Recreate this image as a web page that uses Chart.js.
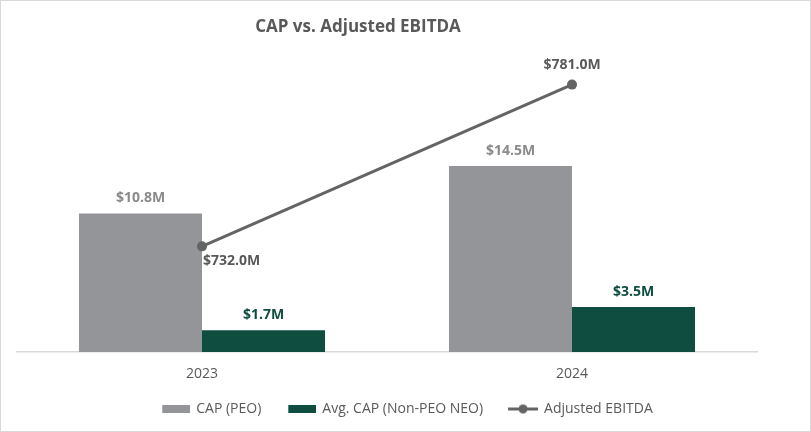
<!DOCTYPE html>
<html>
<head>
<meta charset="utf-8">
<script src="https://cdn.jsdelivr.net/npm/chart.js@4.4.0/dist/chart.umd.min.js"></script>
<style>
  html, body { margin: 0; padding: 0; background: #fff; }
  #wrap { width: 811px; height: 432px; box-sizing: border-box; border: 1px solid #d9d9d9; }
  canvas { display: block; }
</style>
</head>
<body>
<div id="wrap"><canvas id="cap-chart" width="809" height="430"></canvas></div>
<script>
var years = ["2023", "2024"]
var capPeo = [10.8, 14.5]
var capNonPeo = [1.7, 3.5]
var ebitda = [732.0, 781.0]
var seriesNames = ["CAP (PEO)", "Avg. CAP (Non-PEO NEO)", "Adjusted EBITDA"]

var GRAY = '#939598'
var GREEN = '#0e4d40'
var LINE = '#646464'
var TEXT = '#595959'
var labelColors = ['#8a8a8c', GREEN, TEXT]

Chart.defaults.font.family = '"Open Sans", sans-serif'

// legend icons: transparent strip on the left gives the wide gap between items
function boxIcon(color) {
  var c = document.createElement('canvas')
  c.width = 46; c.height = 8
  var g = c.getContext('2d')
  g.fillStyle = color
  g.fillRect(18, 0, 28, 8)
  return c
}
function lineIcon(color) {
  var c = document.createElement('canvas')
  c.width = 46; c.height = 11
  var g = c.getContext('2d')
  g.strokeStyle = color
  g.lineWidth = 3
  g.beginPath(); g.moveTo(16, 5.5); g.lineTo(46, 5.5); g.stroke()
  g.fillStyle = color
  g.beginPath(); g.arc(31, 5.5, 4.5, 0, Math.PI * 2); g.fill()
  return c
}
var legendIcons = [boxIcon(GRAY), boxIcon(GREEN), lineIcon(LINE)]

const titlePlugin = {
  id: 'leftTitle',
  afterDraw(chart) {
    const ctx = chart.ctx
    ctx.save()
    ctx.font = 'bold 17px "Open Sans"'
    ctx.fillStyle = TEXT
    ctx.textAlign = 'center'
    ctx.textBaseline = 'middle'
    ctx.fillText('CAP vs. Adjusted EBITDA', 357, 26)
    ctx.restore()
  }
}

const valueLabels = {
  id: 'valueLabels',
  afterDatasetsDraw(chart) {
    const ctx = chart.ctx
    ctx.save()
    ctx.font = 'bold 14px "Open Sans"'
    ctx.textBaseline = 'middle'
    chart.data.datasets.forEach((ds, i) => {
      const meta = chart.getDatasetMeta(i)
      ctx.fillStyle = labelColors[i]
      meta.data.forEach((el, j) => {
        const txt = '$' + ds.data[j].toFixed(1) + 'M'
        if (ds.type === 'line') {
          if (j === 0) {
            ctx.textAlign = 'left'
            ctx.fillText(txt, el.x + 1, el.y + 15)
          } else {
            ctx.textAlign = 'center'
            ctx.fillText(txt, el.x, el.y - 20)
          }
        } else {
          ctx.textAlign = 'center'
          ctx.fillText(txt, el.x, el.y - 15)
        }
      })
    })
    ctx.restore()
  }
}

new Chart('cap-chart', {
  type: 'bar',
  data: {
    labels: years,
    datasets: [
      { label: seriesNames[0], data: capPeo, backgroundColor: GRAY, yAxisID: 'y', order: 2 },
      { label: seriesNames[1], data: capNonPeo, backgroundColor: GREEN, yAxisID: 'y', order: 2 },
      {
        type: 'line', label: seriesNames[2], data: ebitda, yAxisID: 'y1', order: 1,
        borderColor: LINE, backgroundColor: LINE, borderWidth: 3,
        pointRadius: 5, pointBackgroundColor: LINE, pointBorderWidth: 0
      }
    ]
  },
  options: {
    responsive: false,
    animation: false,
    events: [],
    datasets: { bar: { barPercentage: 1, categoryPercentage: 0.665 } },
    layout: { padding: { top: 43, left: 0, right: 13, bottom: 5 } },
    scales: {
      x: {
        grid: { display: false, drawTicks: false },
        border: { display: true, color: '#d9d9d9', width: 1.5 },
        ticks: { color: TEXT, font: { size: 14 }, padding: 14 },
        afterFit(s) { s.height = 40 }
      },
      y: {
        min: 0, max: 24,
        ticks: { display: false },
        grid: { display: false, drawTicks: false },
        border: { display: false },
        afterFit(s) { s.width = 16 }
      },
      y1: {
        position: 'right',
        min: 700, max: 793.3,
        ticks: { display: false },
        grid: { display: false, drawTicks: false },
        border: { display: false },
        afterFit(s) { s.width = 40 }
      }
    },
    plugins: {
      tooltip: { enabled: false },
      legend: {
        position: 'bottom',
        labels: {
          usePointStyle: true,
          pointStyleWidth: 44,
          padding: 10,
          color: TEXT,
          font: { size: 14 },
          generateLabels(chart) {
            return chart.data.datasets.map((ds, i) => ({
              text: ds.label,
              pointStyle: legendIcons[i],
              fillStyle: 'transparent',
              strokeStyle: 'transparent',
              lineWidth: 0,
              fontColor: TEXT,
              hidden: false,
              datasetIndex: i
            }))
          }
        }
      }
    }
  },
  plugins: [titlePlugin, valueLabels]
})
</script>
</body>
</html>
